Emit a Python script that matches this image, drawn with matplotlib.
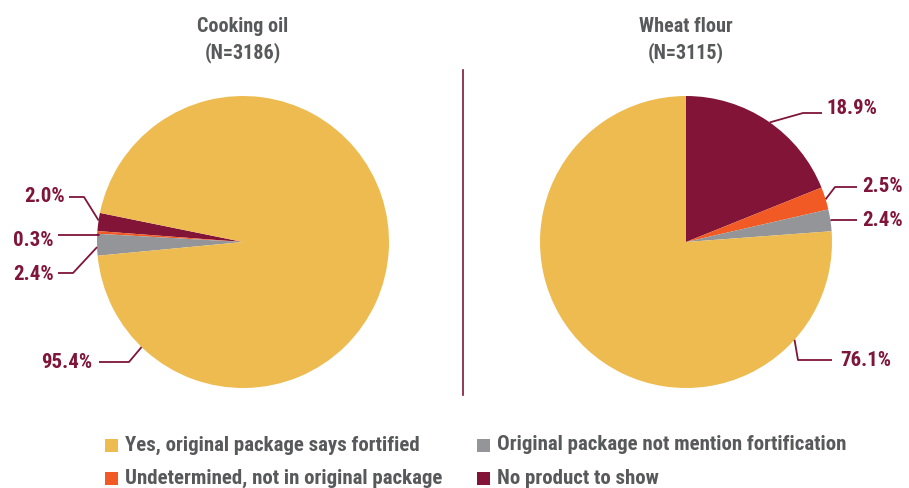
import matplotlib
matplotlib.use("Agg")
import matplotlib.pyplot as plt
import numpy as np

plt.rcParams["font.family"] = ["Roboto Condensed", "DejaVu Sans"]
plt.rcParams["font.weight"] = "bold"

# Survey categories
categories = [
    "No product to show",
    "Undetermined, not in original package",
    "Original package not mention fortification",
    "Yes, original package says fortified",
]
colors = ["#821437", "#F15A24", "#939598", "#EDBB4F"]

# Shares in percent (same category order as above)
oil_values = [2.0, 0.3, 2.4, 95.4]
flour_values = [18.9, 2.5, 2.4, 76.1]
oil_labels = ["2.0%", "0.3%", "2.4%", "95.4%"]
flour_labels = ["18.9%", "2.5%", "2.4%", "76.1%"]

titles = ["Cooking oil\n(N=3186)", "Wheat flour\n(N=3115)"]

W, H = 909, 488
label_color = "#7F1538"
title_color = "#58595B"

fig = plt.figure(figsize=(W / 100, H / 100), dpi=100)

# overlay in pixel coordinates for titles, divider, leaders and legend
ov = fig.add_axes([0, 0, 1, 1])
ov.set_xlim(0, W)
ov.set_ylim(H, 0)
ov.axis("off")


def pie_axes(cx, cy, r):
    return fig.add_axes([(cx - r) / W, (H - cy - r) / H, 2 * r / W, 2 * r / H])


def finish(ax):
    ax.set_xlim(-1, 1)
    ax.set_ylim(-1, 1)
    ax.set_aspect("auto")
    ax.axis("off")


R = 146
left_c = (243, 242)
right_c = (686, 242)

ax1 = pie_axes(*left_c, R)
ax1.pie(oil_values, colors=colors, startangle=168.5, counterclock=True,
        radius=1, wedgeprops=dict(linewidth=0))
finish(ax1)
ax2 = pie_axes(*right_c, R)
ax2.pie(flour_values, colors=colors, startangle=90, counterclock=False,
        radius=1, wedgeprops=dict(linewidth=0))
finish(ax2)

ax1.set_zorder(0)
ax2.set_zorder(0)
ov.set_zorder(1)


def edge_pt(center, ang):
    a = np.deg2rad(ang)
    return center[0] + R * np.cos(a), center[1] - R * np.sin(a)


# leader lines: (angle on rim, elbow point, end point, text pos, ha)
left_leaders = [
    (171.5, (84, 197), (69, 197), (65, 197), "right"),
    (176.8, (99, 235), (58, 235), (54, 240), "right"),
    (182.0, (73, 273), (58, 273), (54, 274), "right"),
    (226.0, (129, 362), (99, 362), (92, 362), "right"),
]
right_leaders = [
    (55.0, (803, 113), (822, 113), (826, 108), "left"),
    (17.0, (835, 187), (857, 187), (862, 186), "left"),
    (8.5, (832, 220), (857, 220), (862, 220), "left"),
    (-42.0, (798, 360), (832, 360), (840, 360), "left"),
]

for center, leaders, labels in ((left_c, left_leaders, oil_labels),
                                (right_c, right_leaders, flour_labels)):
    for (ang, elbow, end, tpos, ha), lab in zip(leaders, labels):
        x0, y0 = edge_pt(center, ang)
        ov.plot([x0, elbow[0], end[0]], [y0, elbow[1], end[1]],
                color=label_color, lw=1.3, solid_capstyle="butt")
        ov.text(tpos[0], tpos[1], lab, ha=ha, va="center", fontsize=15,
                color=label_color, fontweight="bold")

# titles
ov.text(243, 40, titles[0], ha="center", va="center", fontsize=14.5,
        color=title_color, fontweight="bold", linespacing=1.35)
ov.text(686, 40, titles[1], ha="center", va="center", fontsize=14.5,
        color=title_color, fontweight="bold", linespacing=1.35)

# divider
ov.plot([463, 463], [70, 395], color="#7F1538", lw=1.2)

# legend
legend_pos = [(483, 478), (111, 478), (483, 445), (111, 445)]
for (x, y), lab, col in zip(legend_pos, categories, colors):
    ov.add_patch(plt.Rectangle((x - 6.5, y - 6.5), 13, 13, color=col, lw=0))
    ov.text(x + 14, y, lab, ha="left", va="center", fontsize=15,
            color=title_color, fontweight="bold")

fig.savefig("out.png", dpi=100)
